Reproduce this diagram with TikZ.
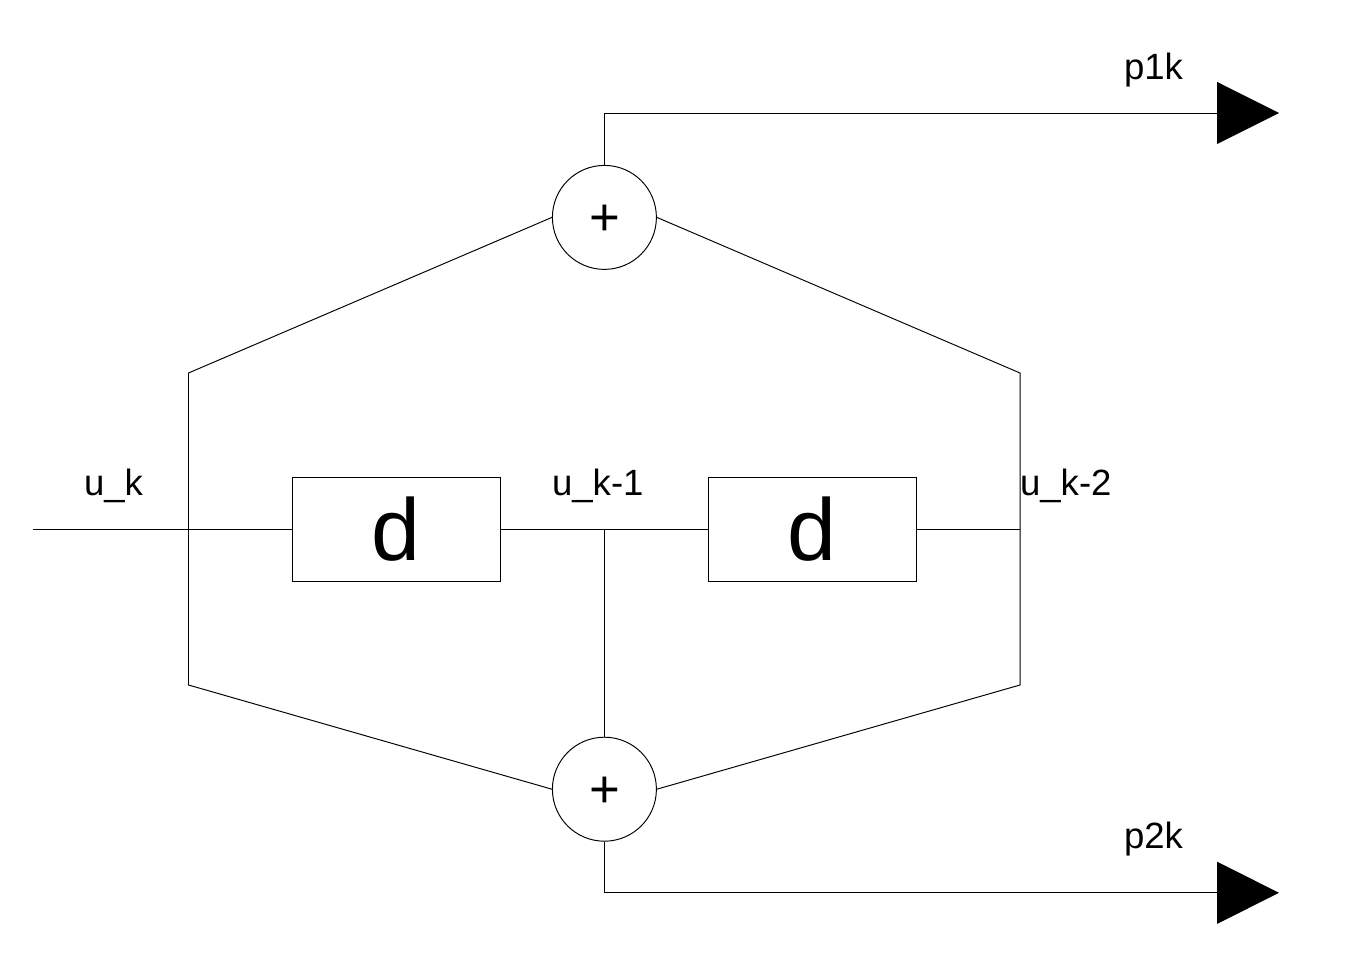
\documentclass[tikz,border=0pt]{standalone}
\usepackage{fontspec}
\setmainfont{Liberation Sans}
\usetikzlibrary{arrows.meta}

\tikzset{
    delaybox/.style={draw, minimum width=208*0.02cm, minimum height=104*0.02cm, inner sep=0pt, font=\fontsize{50}{50}\selectfont},
    adder/.style={draw, circle, minimum size=104*0.02cm, inner sep=0pt, font=\fontsize{30}{30}\selectfont},
    signal/.style={inner sep=0pt, font=\fontsize{20.8}{24}\selectfont},
    outarrow/.style={-{Triangle[length=62*0.02cm, width=62*0.02cm]}},
}

\begin{document}
\begin{tikzpicture}[
        x=0.02cm,
        y=-0.02cm,
        line width=0.55pt,
    ]

    \useasboundingbox (0,0) rectangle (1351,955);

    % blocks
    \node[delaybox] (d1) at (396,529.2) {d};
    \node[delaybox] (d2) at (812,529.2) {d};
    \node[adder] (top) at (604.4,217.4) {\raisebox{-0.06cm}[\height][0pt]{+}};
    \node[adder] (bot) at (604.4,789.2) {\raisebox{-0.06cm}[\height][0pt]{+}};

    % free ends and corners
    \coordinate (in) at (33,529.2);
    \coordinate (tapb) at (604.4,529.2);
    \coordinate (tapc) at (1020,529.2);
    \coordinate (topl) at (188.5,373);
    \coordinate (topr) at (1020,373);
    \coordinate (botl) at (188.5,685);
    \coordinate (botr) at (1020,685);
    \coordinate (outa) at (1279,113);
    \coordinate (outb) at (1279,892.8);

    % shift register
    \draw (in) -- (d1.west);
    \draw (d1.east) -- (d2.west);
    \draw (d2.east) -- (tapc);

    % feedforward paths
    \draw (top.west) -- (topl) -- (botl) -- (bot.west);
    \draw (top.east) -- (topr) -- (botr) -- (bot.east);
    \draw (tapb) -- (bot.north);

    % outputs
    \draw[outarrow] (top.north) |- (outa);
    \draw[outarrow] (bot.south) |- (outb);

    % labels
    \node[signal, anchor=base west] (lu0) at (83.6,495.5) {u\_k};
    \node[signal, anchor=base west] (lu1) at (551.6,495.5) {u\_k-1};
    \node[signal, anchor=base west] (lu2) at (1019.6,495.5) {u\_k-2};
    \node[signal, anchor=base west] (lp1) at (1123.6,79.5) {p1k};
    \node[signal, anchor=base west] (lp2) at (1123.6,848) {p2k};

\end{tikzpicture}
\end{document}
